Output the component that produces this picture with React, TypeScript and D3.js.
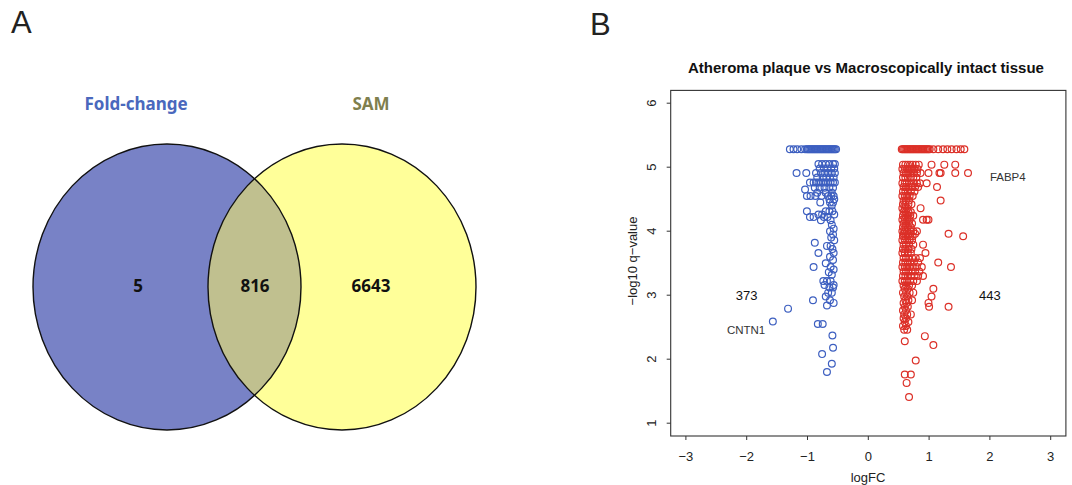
import React from "react";
import * as d3 from "d3";

// Venn panel data
const vennSets = ["Fold-change", "SAM"];
const vennCounts = [5, 816, 6643]; // only FC, both, only SAM

// Volcano panel data
const plotTitle = "Atheroma plaque vs Macroscopically intact tissue";
const xTicks = [-3, -2, -1, 0, 1, 2, 3];
const yTicks = [1, 2, 3, 4, 5, 6];
const qCap = 5.28; // genes with q-value at the floor

// logFC of down-regulated genes sitting on the capped q row
const downCapFC = [
  -1.29, -1.23, -1.17, -1.1, -1.04, -1.01, -0.99, -0.97, -0.95, -0.93, -0.91, -0.89, -0.87,
  -0.85, -0.83, -0.81, -0.79, -0.77, -0.75, -0.73, -0.71, -0.69, -0.67, -0.65, -0.63, -0.61,
  -0.59, -0.57, -0.55, -0.53,
];
// logFC of up-regulated genes sitting on the capped q row
const upCapFC = [
  0.55, 0.57, 0.59, 0.61, 0.63, 0.65, 0.67, 0.69, 0.71, 0.73, 0.75, 0.77, 0.79, 0.81, 0.83,
  0.85, 0.87, 0.89, 0.91, 0.93, 0.95, 0.97, 0.99, 1.01, 1.07, 1.15, 1.23, 1.3, 1.37, 1.45,
  1.52, 1.58,
];

// rows of [-log10 q, logFC values]
const downRows: [number, number[]][] = [
  [5.05, [-0.82, -0.76, -0.7, -0.64, -0.58, -0.55]],
  [4.98, [-0.8, -0.73, -0.67, -0.61, -0.56]],
  [4.91, [-1.18, -1.02, -0.86, -0.78, -0.72, -0.66, -0.6, -0.55]],
  [4.84, [-0.84, -0.75, -0.69, -0.63, -0.57]],
  [4.76, [-0.96, -0.9, -0.86, -0.82, -0.78, -0.74, -0.7, -0.66, -0.62, -0.58, -0.55]],
  [4.68, [-0.88, -0.8, -0.72, -0.64, -0.58]],
  [4.65, [-1.04]],
  [4.6, [-0.84, -0.7, -0.6]],
  [4.55, [-1.01, -0.95, -0.87, -0.77, -0.66, -0.61, -0.57]],
  [4.5, [-0.64, -0.56]],
  [4.45, [-0.79, -0.63, -0.58]],
  [4.4, [-0.6]],
  [4.31, [-1.01, -0.7, -0.64, -0.59]],
  [4.26, [-0.82, -0.76, -0.56]],
  [4.22, [-0.96, -0.9, -0.73, -0.67]],
  [4.17, [-0.78, -0.62]],
  [4.1, [-0.6]],
  [4.04, [-0.57]],
  [4.0, [-0.63]],
  [3.95, [-0.58]],
  [3.9, [-0.61]],
  [3.86, [-0.56]],
  [3.82, [-0.88]],
  [3.77, [-0.68, -0.62]],
  [3.72, [-0.59]],
  [3.66, [-0.82, -0.57]],
  [3.6, [-0.63]],
  [3.55, [-0.58]],
  [3.5, [-0.7]],
  [3.44, [-0.9, -0.62]],
  [3.4, [-0.57]],
  [3.36, [-0.65]],
  [3.32, [-0.6]],
  [3.22, [-0.74, -0.68, -0.62]],
  [3.16, [-0.72, -0.57]],
  [3.12, [-0.64, -0.58]],
  [3.04, [-0.66, -0.6]],
  [2.98, [-0.7]],
  [2.92, [-0.91, -0.63]],
  [2.88, [-0.57]],
  [2.84, [-0.68]],
  [2.79, [-1.32]],
  [2.59, [-1.57]],
  [2.55, [-0.83, -0.75]],
  [2.37, [-0.59]],
  [2.18, [-0.58]],
  [2.08, [-0.76]],
  [1.93, [-0.6]],
  [1.8, [-0.68]],
];

const upRows: [number, number[]][] = [
  [5.04, [0.57, 0.61, 0.65, 0.69, 0.73, 0.78, 0.83, 1.04, 1.25, 1.43]],
  [4.97, [0.56, 0.6, 0.64, 0.68, 0.72, 0.76, 0.81]],
  [4.91, [0.58, 0.62, 0.66, 0.71, 0.75, 0.8, 0.86, 0.99, 1.17, 1.19, 1.43, 1.64]],
  [4.84, [0.57, 0.61, 0.65, 0.7, 0.74, 0.79]],
  [4.75, [0.56, 0.6, 0.63, 0.67, 0.71, 0.75, 0.8, 0.85, 0.96]],
  [4.69, [0.58, 0.62, 0.66, 0.72, 0.77, 0.82, 1.13]],
  [4.62, [0.57, 0.61, 0.65, 0.7, 0.76]],
  [4.55, [0.56, 0.6, 0.64, 0.68, 0.73]],
  [4.48, [0.58, 0.62, 0.67, 1.19]],
  [4.42, [0.57, 0.61, 0.66, 0.71]],
  [4.36, [0.56, 0.6, 0.64, 0.86]],
  [4.3, [0.58, 0.62, 0.66, 0.7]],
  [4.24, [0.57, 0.61, 0.65, 0.69, 0.74]],
  [4.18, [0.56, 0.6, 0.64, 0.68, 0.9, 0.96, 0.99]],
  [4.12, [0.58, 0.62, 0.67, 0.72]],
  [4.06, [0.57, 0.61, 0.65, 0.7]],
  [4.0, [0.56, 0.6, 0.64, 0.7, 0.74, 0.8]],
  [3.96, [0.58, 0.62, 0.66, 0.77, 1.32]],
  [3.92, [0.57, 0.61, 0.65, 0.69, 0.73, 1.56]],
  [3.86, [0.56, 0.6, 0.64, 0.68, 0.72]],
  [3.79, [0.58, 0.62, 0.67, 0.74, 0.9]],
  [3.72, [0.57, 0.61, 0.66, 0.71]],
  [3.66, [0.56, 0.6, 0.65, 0.7, 0.94]],
  [3.58, [0.58, 0.62, 0.66, 0.72, 0.78, 0.85]],
  [3.51, [0.57, 0.61, 0.65, 0.69, 0.75, 0.82, 1.15]],
  [3.44, [0.56, 0.6, 0.64, 0.68, 0.73, 0.8, 0.88, 1.36]],
  [3.37, [0.58, 0.62, 0.66, 0.71, 0.77, 0.84]],
  [3.3, [0.57, 0.61, 0.65, 0.7, 0.76, 0.82, 0.9]],
  [3.22, [0.56, 0.6, 0.64, 0.69, 0.74, 0.8]],
  [3.15, [0.58, 0.62, 0.67, 0.72]],
  [3.1, [0.6, 0.65, 1.07]],
  [3.04, [0.57, 0.62, 0.68, 0.74]],
  [2.98, [0.59, 0.64, 1.04]],
  [2.92, [0.61, 0.66, 0.72]],
  [2.88, [0.58, 0.63, 0.99]],
  [2.82, [0.6, 0.65, 1.0, 1.32]],
  [2.76, [0.57, 0.62]],
  [2.7, [0.59, 0.64, 0.7]],
  [2.64, [0.58, 0.62]],
  [2.58, [0.6, 0.66]],
  [2.52, [0.57, 0.62]],
  [2.46, [0.59, 0.64]],
  [2.36, [0.93]],
  [2.28, [0.6]],
  [2.22, [1.07]],
  [1.98, [0.78]],
  [1.76, [0.6, 0.7]],
  [1.63, [0.63]],
  [1.41, [0.67]],
];

const geneLabels = [
  { name: "FABP4", fc: 2.0, q: 4.79, anchor: "start" },
  { name: "CNTN1", fc: -2.01, q: 2.4, anchor: "middle" },
];
const countLabels = [
  { text: "373", fc: -2.0, q: 3.0 },
  { text: "443", fc: 2.0, q: 3.0 },
];

const W = 1072;
const H = 485;
const blue = "#3d5fc0";
const red = "#dc3028";

function toPoints(rows: [number, number[]][], capFC: number[]) {
  const pts: { fc: number; q: number }[] = [];
  rows.forEach(([q, fcs]) => fcs.forEach((fc) => pts.push({ fc, q })));
  capFC.forEach((fc) => pts.push({ fc, q: qCap }));
  return pts;
}

function Venn() {
  const left = { cx: 167, cy: 287 };
  const right = { cx: 342, cy: 287 };
  const rx = 134;
  const ry = 143;
  const countX = [138, 255, 371];
  return (
    <g>
      <defs>
        <clipPath id="rightClip">
          <ellipse cx={right.cx} cy={right.cy} rx={rx} ry={ry} />
        </clipPath>
      </defs>
      <ellipse cx={left.cx} cy={left.cy} rx={rx} ry={ry} fill="#7882c6" />
      <ellipse cx={right.cx} cy={right.cy} rx={rx} ry={ry} fill="#ffff99" />
      <ellipse cx={left.cx} cy={left.cy} rx={rx} ry={ry} fill="#c0c08f" clipPath="url(#rightClip)" />
      <ellipse cx={left.cx} cy={left.cy} rx={rx} ry={ry} fill="none" stroke="#111" strokeWidth={1.4} />
      <ellipse cx={right.cx} cy={right.cy} rx={rx} ry={ry} fill="none" stroke="#111" strokeWidth={1.4} />
      <g fontFamily="'Noto Sans', sans-serif" fontWeight="bold" fontSize={17} textAnchor="middle">
        <text x={136} y={110} fill="#4a68bd">{vennSets[0]}</text>
        <text x={371} y={110} fill="#7f7f4e">{vennSets[1]}</text>
        {vennCounts.map((c, i) => (
          <text key={i} x={countX[i]} y={292} fill="#111">{c}</text>
        ))}
      </g>
    </g>
  );
}

function Volcano() {
  const x = d3.scaleLinear().domain([-3.25, 3.25]).range([670.7, 1065.9]);
  const y = d3.scaleLinear().domain([0.8, 6.2]).range([436, 90.4]);
  const down = toPoints(downRows, downCapFC);
  const up = toPoints(upRows, upCapFC);
  const font = "'Liberation Sans', Arial, sans-serif";
  const [x0, x1] = x.range();
  const [y0, y1] = y.range();
  return (
    <g fontFamily={font}>
      <text x={866} y={73} textAnchor="middle" fontWeight="bold" fontSize={15} fill="#111">
        {plotTitle}
      </text>
      <rect x={x0} y={y1} width={x1 - x0} height={y0 - y1} fill="none" stroke="#333" strokeWidth={1.1} />
      {xTicks.map((t) => (
        <g key={t}>
          <line x1={x(t)} x2={x(t)} y1={y0} y2={y0 + 4} stroke="#333" />
          <text x={x(t)} y={461} textAnchor="middle" fontSize={13} fill="#222">
            {t < 0 ? "\u2212" + Math.abs(t) : t}
          </text>
        </g>
      ))}
      {yTicks.map((t) => (
        <g key={t}>
          <line x1={x0 - 4} x2={x0} y1={y(t)} y2={y(t)} stroke="#333" />
          <text transform={`translate(656,${y(t)}) rotate(-90)`} textAnchor="middle" fontSize={13} fill="#222">
            {t}
          </text>
        </g>
      ))}
      <text x={868} y={482} textAnchor="middle" fontSize={13} fill="#222">logFC</text>
      <text transform="translate(637,261) rotate(-90)" textAnchor="middle" fontSize={13} fill="#222">
        {"\u2212log10 q\u2212value"}
      </text>
      {down.map((p, i) => (
        <circle key={"d" + i} cx={x(p.fc)} cy={y(p.q)} r={3.4} fill="none" stroke={blue} strokeWidth={1.2} />
      ))}
      {up.map((p, i) => (
        <circle key={"u" + i} cx={x(p.fc)} cy={y(p.q)} r={3.4} fill="none" stroke={red} strokeWidth={1.2} />
      ))}
      {geneLabels.map((g) => (
        <text key={g.name} x={x(g.fc)} y={y(g.q)} textAnchor={g.anchor} fontSize={11.5} fill="#333">
          {g.name}
        </text>
      ))}
      {countLabels.map((c) => (
        <text key={c.text} x={x(c.fc)} y={y(c.q) + 4.5} textAnchor="middle" fontSize={13} fill="#111">
          {c.text}
        </text>
      ))}
    </g>
  );
}

export default function App() {
  return (
    <svg width={W} height={H} style={{ position: "absolute", left: 0, top: 0, background: "#fff" }}>
      <text x={11} y={33} fontFamily="'Liberation Sans', Arial, sans-serif" fontSize={31} fill="#222">A</text>
      <text x={590} y={35} fontFamily="'Liberation Sans', Arial, sans-serif" fontSize={31} fill="#222">B</text>
      <Venn />
      <Volcano />
    </svg>
  );
}
